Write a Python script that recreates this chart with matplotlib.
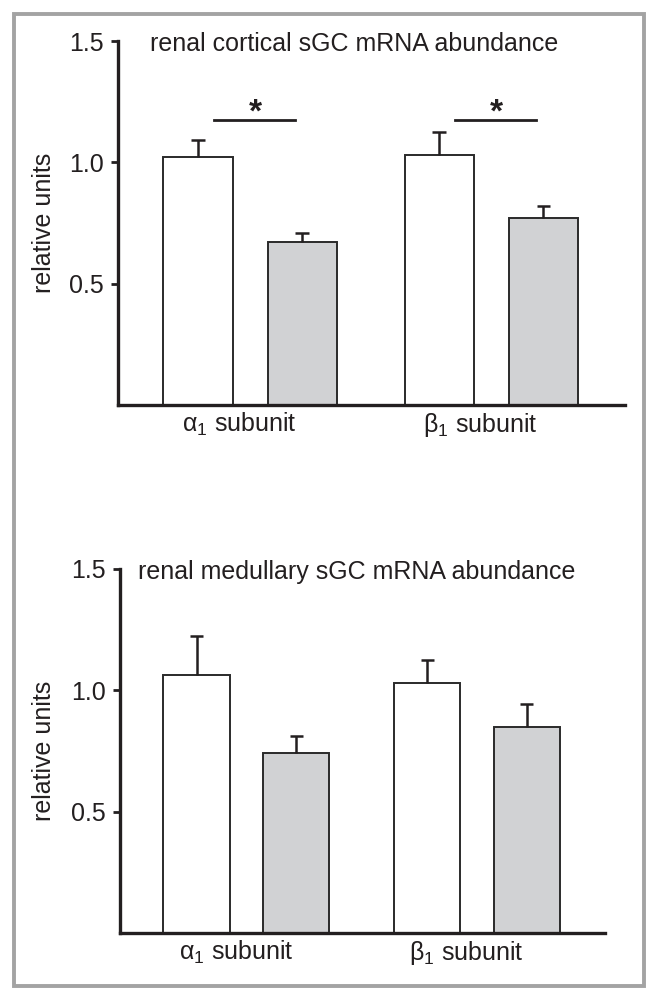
import numpy as np
import matplotlib
matplotlib.use("Agg")
import matplotlib.pyplot as plt
from matplotlib.patches import Rectangle

plt.rcParams['font.family'] = ['Liberation Sans', 'DejaVu Sans']
plt.rcParams['mathtext.fontset'] = 'custom'
plt.rcParams['mathtext.rm'] = 'Liberation Sans'
plt.rcParams['mathtext.it'] = 'Liberation Sans'

# data
subunits = ['α$_1$ subunit', 'β$_1$ subunit']
titles = ['renal cortical sGC mRNA abundance', 'renal medullary sGC mRNA abundance']
ctrl_vals = [[1.02, 1.03], [1.065, 1.03]]
ctrl_err = [[0.07, 0.095], [0.16, 0.095]]
trt_vals = [[0.67, 0.77], [0.74, 0.85]]
trt_err = [[0.04, 0.05], [0.07, 0.095]]
signif = [[True, True], [False, False]]
yticks = [0.5, 1.0, 1.5]

W, H = 647, 988
fig = plt.figure(figsize=(W / 100, H / 100), dpi=100)

# grey frame round the whole figure
fig.patches.append(Rectangle((14 / W, 2 / H), (644 - 14) / W, (974 - 2) / H,
                             transform=fig.transFigure, fill=False,
                             edgecolor='#a3a3a3', linewidth=2.8))

# axes boxes in pixels: left, right, top, bottom
boxes = [(118, 625, 41, 405), (120, 605, 569, 933)]

x = np.arange(2)
off = 0.216
bw = 0.287
cap = 0.028

for i in range(2):
    l, r, t, b = boxes[i]
    ax = fig.add_axes([l / W, 1 - b / H, (r - l) / W, (b - t) / H])
    ax.bar(x - off, ctrl_vals[i], bw, color='white', edgecolor='#2a2a2a', linewidth=1.4, zorder=2)
    ax.bar(x + off, trt_vals[i], bw, color='#d1d2d4', edgecolor='#2a2a2a', linewidth=1.4, zorder=2)
    # upper error bars only
    for xs, v, e in [(x - off, ctrl_vals[i], ctrl_err[i]), (x + off, trt_vals[i], trt_err[i])]:
        top = np.array(v) + np.array(e)
        ax.vlines(xs, v, top, color='#231f20', linewidth=1.8, zorder=3)
        ax.hlines(top, xs - cap, xs + cap, color='#231f20', linewidth=1.8, zorder=3)
    for j in range(2):
        if signif[i][j]:
            ax.plot([x[j] - 0.15, x[j] + 0.185], [1.174, 1.174], color='#231f20', linewidth=2.0)
            ax.text(x[j] + 0.022, 1.205, '*', ha='center', va='center', fontsize=24,
                    fontweight='bold', color='#231f20')

    ax.set_xlim(-0.548, 1.555)
    ax.set_ylim(0, 1.5)
    ax.set_yticks(yticks)
    ax.set_yticklabels(['%.1f' % v for v in yticks], fontsize=18, color='#231f20')
    ax.set_xticks(x - 0.045)
    ax.set_xticklabels(subunits, fontsize=18, color='#231f20')
    ax.tick_params(axis='x', length=0, pad=4)
    ax.tick_params(axis='y', direction='out', length=5, width=2, pad=5, color='#231f20')
    for s in ['top', 'right']:
        ax.spines[s].set_visible(False)
    for s in ['left', 'bottom']:
        ax.spines[s].set_linewidth(2.4)
        ax.spines[s].set_color('#231f20')
    ax.text((44 - l) / (r - l), 0.5, 'relative units', transform=ax.transAxes,
            rotation=90, ha='center', va='center', fontsize=18, color='#231f20')
    tx = [150, 138][i]
    ty = [44, 572][i]
    ax.text((tx - l) / (r - l), (b - ty) / (b - t), titles[i], transform=ax.transAxes,
            ha='left', va='center', fontsize=18, color='#231f20')

fig.savefig('out.png', dpi=100)
